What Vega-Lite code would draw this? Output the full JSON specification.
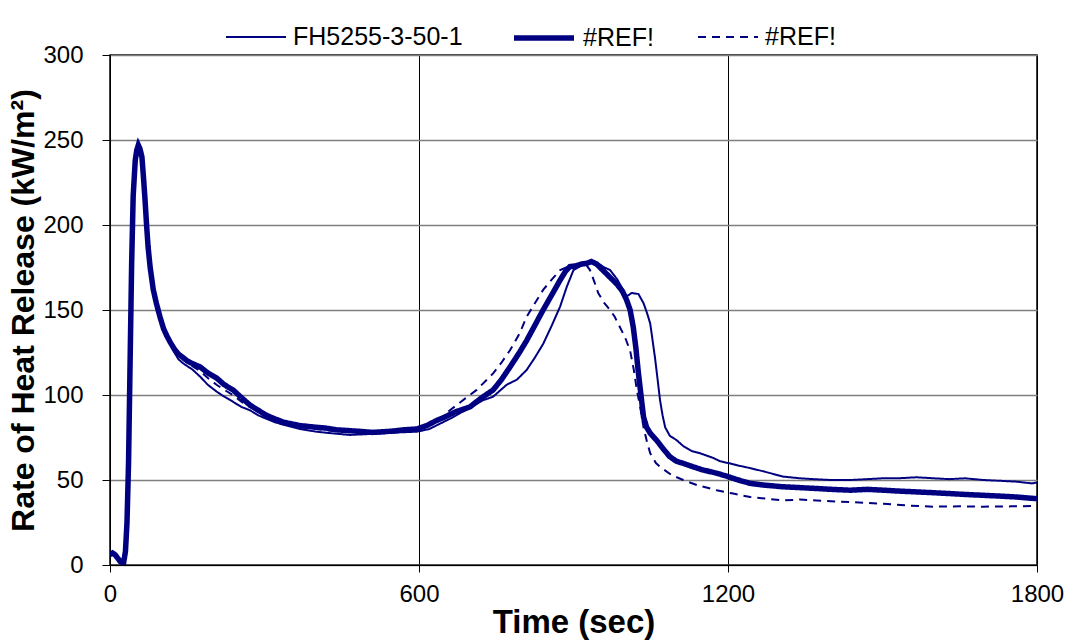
{
  "$schema": "https://vega.github.io/schema/vega-lite/v6.json",
  "width": 927,
  "height": 510,
  "autosize": "none",
  "padding": {"left": 110, "top": 55, "right": 37, "bottom": 76},
  "background": "#ffffff",
  "config": {
    "font": "Liberation Sans",
    "view": {"stroke": "#000000", "strokeWidth": 1.5}
  },
  "data": {"values": [
    {"s":"A","t":0,"v":6},{"s":"A","t":5,"v":7},{"s":"A","t":10,"v":6},{"s":"A","t":15,"v":4},{"s":"A","t":20,"v":2},{"s":"A","t":26,"v":0.5},{"s":"A","t":30,"v":8},{"s":"A","t":33,"v":25},{"s":"A","t":36,"v":60},{"s":"A","t":39,"v":119},{"s":"A","t":42,"v":177},{"s":"A","t":45,"v":217},{"s":"A","t":49,"v":238},{"s":"A","t":52,"v":244},{"s":"A","t":55,"v":247},{"s":"A","t":58,"v":245},{"s":"A","t":62,"v":240},{"s":"A","t":65,"v":228},{"s":"A","t":68,"v":215},{"s":"A","t":71,"v":200},{"s":"A","t":74,"v":187},{"s":"A","t":78,"v":175},{"s":"A","t":84,"v":162},{"s":"A","t":90,"v":154},{"s":"A","t":97,"v":146},{"s":"A","t":104,"v":139},{"s":"A","t":110,"v":134},{"s":"A","t":117,"v":130},{"s":"A","t":125,"v":125},{"s":"A","t":133,"v":121},{"s":"A","t":142,"v":118.6},{"s":"A","t":160,"v":115},{"s":"A","t":175,"v":110.8},{"s":"A","t":190,"v":106},{"s":"A","t":207,"v":102},{"s":"A","t":222,"v":99},{"s":"A","t":239,"v":96},{"s":"A","t":255,"v":93},{"s":"A","t":272,"v":91},{"s":"A","t":288,"v":88},{"s":"A","t":304,"v":86},{"s":"A","t":320,"v":84},{"s":"A","t":337,"v":82.5},{"s":"A","t":369,"v":80},{"s":"A","t":401,"v":78.4},{"s":"A","t":430,"v":77.5},{"s":"A","t":466,"v":76.5},{"s":"A","t":500,"v":77},{"s":"A","t":531,"v":77.5},{"s":"A","t":560,"v":78},{"s":"A","t":596,"v":78.4},{"s":"A","t":620,"v":80},{"s":"A","t":640,"v":83},{"s":"A","t":660,"v":86},{"s":"A","t":690,"v":91},{"s":"A","t":725,"v":97},{"s":"A","t":744,"v":99},{"s":"A","t":770,"v":106},{"s":"A","t":790,"v":109},{"s":"A","t":809,"v":114.7},{"s":"A","t":825,"v":122},{"s":"A","t":841,"v":130},{"s":"A","t":858,"v":141},{"s":"A","t":874,"v":152},{"s":"A","t":887,"v":163.7},{"s":"A","t":900,"v":173.5},{"s":"A","t":915,"v":176},{"s":"A","t":932,"v":179},{"s":"A","t":945,"v":178},{"s":"A","t":960,"v":175},{"s":"A","t":971,"v":173.5},{"s":"A","t":985,"v":168},{"s":"A","t":1003,"v":158},{"s":"A","t":1013,"v":160},{"s":"A","t":1026,"v":159.4},{"s":"A","t":1036,"v":154},{"s":"A","t":1043,"v":148},{"s":"A","t":1049,"v":142},{"s":"A","t":1058,"v":122.5},{"s":"A","t":1063,"v":110},{"s":"A","t":1068,"v":97},{"s":"A","t":1073,"v":88},{"s":"A","t":1078,"v":81},{"s":"A","t":1087,"v":76},{"s":"A","t":1100,"v":73.5},{"s":"A","t":1113,"v":70},{"s":"A","t":1130,"v":67},{"s":"A","t":1146,"v":65.7},{"s":"A","t":1171,"v":63},{"s":"A","t":1185,"v":61},{"s":"A","t":1200,"v":60},{"s":"A","t":1220,"v":58.5},{"s":"A","t":1243,"v":57},{"s":"A","t":1270,"v":55},{"s":"A","t":1307,"v":52},{"s":"A","t":1340,"v":51},{"s":"A","t":1372,"v":50.4},{"s":"A","t":1400,"v":50},{"s":"A","t":1437,"v":50},{"s":"A","t":1470,"v":50.5},{"s":"A","t":1500,"v":51},{"s":"A","t":1530,"v":51},{"s":"A","t":1566,"v":51.6},{"s":"A","t":1600,"v":51},{"s":"A","t":1630,"v":50.5},{"s":"A","t":1660,"v":51},{"s":"A","t":1696,"v":50},{"s":"A","t":1730,"v":49.5},{"s":"A","t":1761,"v":49},{"s":"A","t":1790,"v":48},{"s":"A","t":1800,"v":48.5},
    {"s":"C","t":0,"v":6},{"s":"C","t":5,"v":7},{"s":"C","t":10,"v":6},{"s":"C","t":15,"v":4},{"s":"C","t":20,"v":2},{"s":"C","t":26,"v":0.5},{"s":"C","t":30,"v":8},{"s":"C","t":33,"v":25},{"s":"C","t":36,"v":60},{"s":"C","t":39,"v":119},{"s":"C","t":42,"v":177},{"s":"C","t":45,"v":217},{"s":"C","t":49,"v":238},{"s":"C","t":52,"v":244},{"s":"C","t":55,"v":247},{"s":"C","t":58,"v":245},{"s":"C","t":62,"v":240},{"s":"C","t":65,"v":228},{"s":"C","t":68,"v":215},{"s":"C","t":71,"v":200},{"s":"C","t":74,"v":187},{"s":"C","t":78,"v":175},{"s":"C","t":84,"v":162},{"s":"C","t":90,"v":154},{"s":"C","t":97,"v":146},{"s":"C","t":104,"v":139},{"s":"C","t":110,"v":135},{"s":"C","t":117,"v":131},{"s":"C","t":125,"v":126},{"s":"C","t":133,"v":123},{"s":"C","t":142,"v":121},{"s":"C","t":160,"v":117},{"s":"C","t":175,"v":114},{"s":"C","t":190,"v":110},{"s":"C","t":207,"v":106},{"s":"C","t":222,"v":103},{"s":"C","t":239,"v":100},{"s":"C","t":255,"v":96},{"s":"C","t":272,"v":93},{"s":"C","t":288,"v":90},{"s":"C","t":304,"v":87},{"s":"C","t":320,"v":85},{"s":"C","t":337,"v":83},{"s":"C","t":369,"v":81},{"s":"C","t":401,"v":80},{"s":"C","t":430,"v":79},{"s":"C","t":466,"v":78},{"s":"C","t":500,"v":77.5},{"s":"C","t":531,"v":78},{"s":"C","t":560,"v":79},{"s":"C","t":596,"v":80},{"s":"C","t":615,"v":82},{"s":"C","t":630,"v":84},{"s":"C","t":645,"v":87},{"s":"C","t":660,"v":91},{"s":"C","t":690,"v":98},{"s":"C","t":712,"v":103},{"s":"C","t":744,"v":112.7},{"s":"C","t":760,"v":119},{"s":"C","t":777,"v":126.5},{"s":"C","t":795,"v":136},{"s":"C","t":809,"v":146},{"s":"C","t":825,"v":154},{"s":"C","t":841,"v":161.8},{"s":"C","t":858,"v":168},{"s":"C","t":874,"v":173.5},{"s":"C","t":890,"v":175.5},{"s":"C","t":906,"v":176.5},{"s":"C","t":919,"v":177.5},{"s":"C","t":926,"v":176},{"s":"C","t":932,"v":173.5},{"s":"C","t":940,"v":167},{"s":"C","t":948,"v":160},{"s":"C","t":960,"v":154},{"s":"C","t":971,"v":150},{"s":"C","t":980,"v":146},{"s":"C","t":990,"v":140},{"s":"C","t":1000,"v":134},{"s":"C","t":1010,"v":126},{"s":"C","t":1017,"v":115},{"s":"C","t":1023,"v":103},{"s":"C","t":1030,"v":92},{"s":"C","t":1036,"v":81},{"s":"C","t":1043,"v":72},{"s":"C","t":1049,"v":65.7},{"s":"C","t":1060,"v":60},{"s":"C","t":1068,"v":57.8},{"s":"C","t":1090,"v":53},{"s":"C","t":1113,"v":50},{"s":"C","t":1140,"v":47},{"s":"C","t":1178,"v":44},{"s":"C","t":1210,"v":42},{"s":"C","t":1243,"v":40},{"s":"C","t":1275,"v":39},{"s":"C","t":1307,"v":38},{"s":"C","t":1340,"v":38.5},{"s":"C","t":1372,"v":38},{"s":"C","t":1400,"v":37.5},{"s":"C","t":1437,"v":37},{"s":"C","t":1470,"v":36.5},{"s":"C","t":1502,"v":36},{"s":"C","t":1550,"v":35},{"s":"C","t":1599,"v":34.3},{"s":"C","t":1650,"v":34.5},{"s":"C","t":1696,"v":34.3},{"s":"C","t":1750,"v":34.5},{"s":"C","t":1800,"v":34.7},
    {"s":"B","t":0,"v":6},{"s":"B","t":5,"v":7},{"s":"B","t":10,"v":6},{"s":"B","t":15,"v":4},{"s":"B","t":20,"v":2},{"s":"B","t":26,"v":0.5},{"s":"B","t":30,"v":8},{"s":"B","t":33,"v":25},{"s":"B","t":36,"v":60},{"s":"B","t":39,"v":119},{"s":"B","t":42,"v":177},{"s":"B","t":45,"v":217},{"s":"B","t":49,"v":238},{"s":"B","t":52,"v":244},{"s":"B","t":55,"v":247},{"s":"B","t":58,"v":245},{"s":"B","t":62,"v":240},{"s":"B","t":65,"v":228},{"s":"B","t":68,"v":215},{"s":"B","t":71,"v":200},{"s":"B","t":74,"v":187},{"s":"B","t":78,"v":175},{"s":"B","t":84,"v":162},{"s":"B","t":90,"v":154},{"s":"B","t":97,"v":146},{"s":"B","t":104,"v":139},{"s":"B","t":110,"v":135},{"s":"B","t":117,"v":131},{"s":"B","t":125,"v":127},{"s":"B","t":133,"v":124},{"s":"B","t":142,"v":122},{"s":"B","t":150,"v":120},{"s":"B","t":160,"v":118.5},{"s":"B","t":175,"v":116.5},{"s":"B","t":190,"v":113},{"s":"B","t":207,"v":110},{"s":"B","t":222,"v":106},{"s":"B","t":239,"v":103},{"s":"B","t":255,"v":98.5},{"s":"B","t":272,"v":94},{"s":"B","t":288,"v":91},{"s":"B","t":304,"v":88},{"s":"B","t":320,"v":86},{"s":"B","t":337,"v":84},{"s":"B","t":353,"v":83},{"s":"B","t":369,"v":82},{"s":"B","t":385,"v":81.5},{"s":"B","t":401,"v":81},{"s":"B","t":420,"v":80.5},{"s":"B","t":440,"v":79.5},{"s":"B","t":466,"v":79},{"s":"B","t":490,"v":78.5},{"s":"B","t":510,"v":78},{"s":"B","t":531,"v":78.4},{"s":"B","t":550,"v":78.8},{"s":"B","t":570,"v":79.5},{"s":"B","t":596,"v":80},{"s":"B","t":615,"v":82},{"s":"B","t":634,"v":85},{"s":"B","t":650,"v":87},{"s":"B","t":670,"v":90},{"s":"B","t":699,"v":93},{"s":"B","t":720,"v":98},{"s":"B","t":744,"v":103},{"s":"B","t":760,"v":109},{"s":"B","t":777,"v":116.6},{"s":"B","t":795,"v":125},{"s":"B","t":809,"v":132},{"s":"B","t":825,"v":141},{"s":"B","t":841,"v":150},{"s":"B","t":858,"v":159},{"s":"B","t":874,"v":167.6},{"s":"B","t":885,"v":173},{"s":"B","t":893,"v":175.5},{"s":"B","t":905,"v":176},{"s":"B","t":915,"v":177},{"s":"B","t":926,"v":177.5},{"s":"B","t":935,"v":178.5},{"s":"B","t":945,"v":177},{"s":"B","t":955,"v":174},{"s":"B","t":965,"v":171},{"s":"B","t":975,"v":168},{"s":"B","t":985,"v":165},{"s":"B","t":995,"v":161},{"s":"B","t":1003,"v":156},{"s":"B","t":1010,"v":150},{"s":"B","t":1016,"v":140},{"s":"B","t":1021,"v":128},{"s":"B","t":1026,"v":113},{"s":"B","t":1031,"v":100},{"s":"B","t":1036,"v":87},{"s":"B","t":1042,"v":81},{"s":"B","t":1049,"v":77.5},{"s":"B","t":1061,"v":73.5},{"s":"B","t":1075,"v":68},{"s":"B","t":1087,"v":63.7},{"s":"B","t":1100,"v":61},{"s":"B","t":1113,"v":59.8},{"s":"B","t":1130,"v":58},{"s":"B","t":1150,"v":56},{"s":"B","t":1178,"v":54},{"s":"B","t":1200,"v":52},{"s":"B","t":1220,"v":50},{"s":"B","t":1243,"v":48},{"s":"B","t":1270,"v":47},{"s":"B","t":1307,"v":46},{"s":"B","t":1340,"v":45.5},{"s":"B","t":1372,"v":45},{"s":"B","t":1400,"v":44.5},{"s":"B","t":1437,"v":44},{"s":"B","t":1470,"v":44.5},{"s":"B","t":1502,"v":44},{"s":"B","t":1530,"v":43.5},{"s":"B","t":1566,"v":43},{"s":"B","t":1600,"v":42.5},{"s":"B","t":1631,"v":42},{"s":"B","t":1660,"v":41.5},{"s":"B","t":1696,"v":41},{"s":"B","t":1730,"v":40.5},{"s":"B","t":1760,"v":40},{"s":"B","t":1800,"v":39}
  ]},
  "mark": {"type": "line", "clip": true},
  "encoding": {
    "x": {
      "field": "t", "type": "quantitative",
      "scale": {"domain": [0, 1800], "nice": false},
      "axis": {
        "title": "Time (sec)", "values": [0, 600, 1200, 1800], "format": "d",
        "grid": true, "gridColor": "#000000", "gridWidth": 1,
        "domainColor": "#000000", "tickColor": "#000000", "tickSize": 7,
        "labelFontSize": 24, "labelColor": "#000000", "labelPadding": 10, "labelFlush": false,
        "titleFontSize": 33, "titleFontWeight": "bold", "titleColor": "#000000", "titlePadding": 0
      }
    },
    "y": {
      "field": "v", "type": "quantitative",
      "scale": {"domain": [0, 300], "nice": false},
      "axis": {
        "title": "Rate of Heat Release (kW/m²)", "values": [0, 50, 100, 150, 200, 250, 300],
        "grid": true, "gridColor": "#808080", "gridWidth": 1.5,
        "domainColor": "#000000", "tickColor": "#000000", "tickSize": 8,
        "labelFontSize": 24, "labelColor": "#000000", "labelPadding": 19,
        "titleFontSize": 32, "titleFontWeight": "bold", "titleColor": "#000000", "titlePadding": 2
      }
    },
    "color": {
      "field": "s", "type": "nominal",
      "scale": {"domain": ["A", "B", "C"], "range": ["#000080", "#000080", "#000080"]},
      "legend": {
        "orient": "none", "legendX": 115, "legendY": -50, "direction": "horizontal",
        "title": null, "symbolType": "stroke", "symbolSize": 3600,
        "labelFontSize": 25, "labelColor": "#000000", "labelOffset": 6, "columnPadding": 40,
        "labelLimit": 500,
        "labelExpr": "datum.value === 'A' ? 'FH5255-3-50-1' : '#REF!'"
      }
    },
    "strokeWidth": {
      "field": "s", "type": "nominal",
      "scale": {"type": "ordinal", "domain": ["A", "B", "C"], "range": [2, 5.5, 2]}
    },
    "strokeDash": {
      "field": "s", "type": "nominal",
      "scale": {"domain": ["A", "B", "C"], "range": [[1, 0], [1, 0], [8, 6]]}
    },
    "order": {"field": "t", "type": "quantitative"}
  }
}
